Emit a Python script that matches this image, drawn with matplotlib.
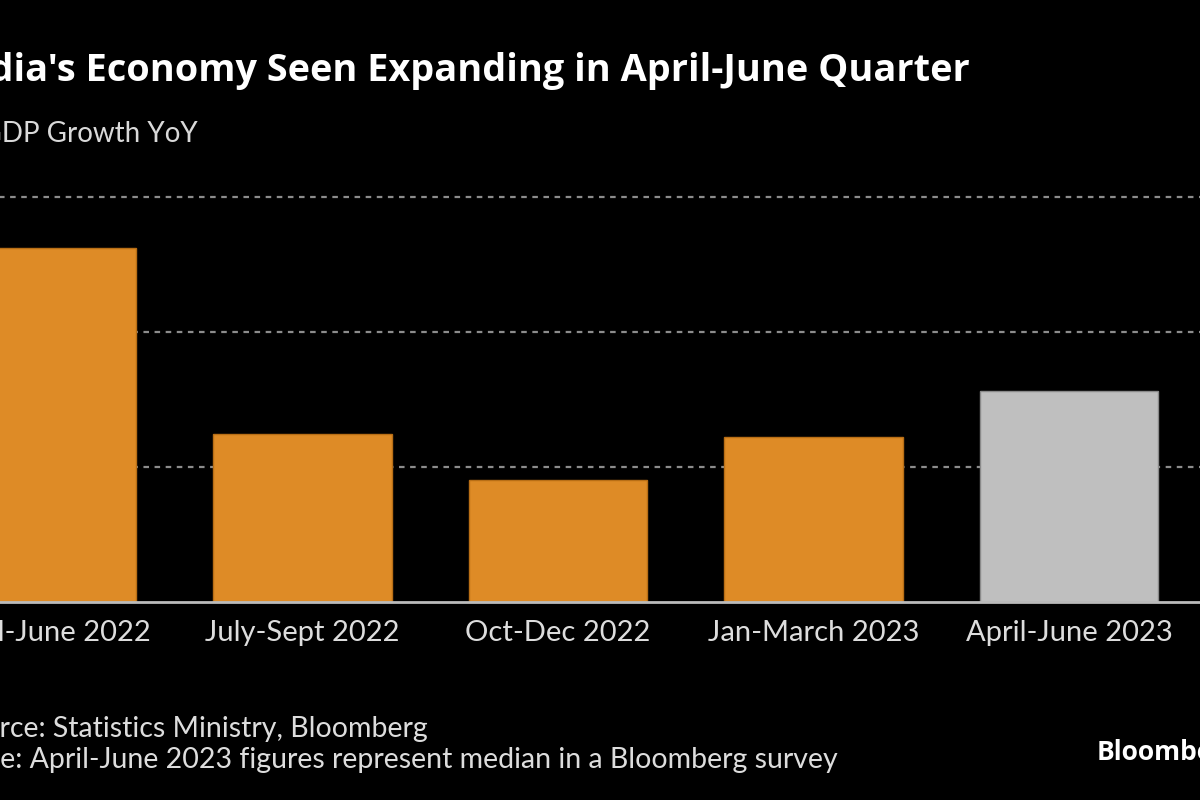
import matplotlib
matplotlib.use("Agg")
import matplotlib.pyplot as plt

# data
quarters = ["April-June 2022", "July-Sept 2022", "Oct-Dec 2022", "Jan-March 2023", "April-June 2023"]
growth = [13.1, 6.2, 4.5, 6.1, 7.8]
bar_colors = ["#DE8B26", "#DE8B26", "#DE8B26", "#DE8B26", "#BFBFBF"]
edge_colors = ["#B86E15", "#B86E15", "#B86E15", "#B86E15", "#8A8A8A"]
y_ticks = [5, 10, 15]

title = "India's Economy Seen Expanding in April-June Quarter"
subtitle = "Real GDP Growth YoY"
source = "Source: Statistics Ministry, Bloomberg"
note = "Note: April-June 2023 figures represent median in a Bloomberg survey"

W, H = 1200, 800
FONT = "Lato"
TITLE_FONT = "Open Sans"

fig = plt.figure(figsize=(W / 100, H / 100), dpi=100, facecolor="black")

# axes placed in pixels; the chart is cropped on the left like the original
x0, x1 = -0.7, 4.6
y0, y1 = 0, 15.3
step = 255.5
px_left = 47 + step * x0
px_right = 47 + step * x1
base_px = 601.5
per_pct = 26.96
top_px = base_px - per_pct * y1
ax = fig.add_axes([px_left / W, 1 - base_px / H, (px_right - px_left) / W, (base_px - top_px) / H])
ax.set_facecolor("black")

pos = list(range(len(quarters)))
ax.bar(pos, growth, width=0.7, color=bar_colors, edgecolor=edge_colors, linewidth=1, zorder=2)

ax.set_xlim(x0, x1)
ax.set_ylim(y0, y1)
ax.set_yticks(y_ticks)
ax.yaxis.grid(True, color="#8C8C8C", linestyle=(0, (2.5, 2.5)), linewidth=1.6, zorder=0)
ax.set_axisbelow(True)
ax.tick_params(axis="y", left=False, labelleft=False)
ax.set_xticks(pos)
ax.set_xticklabels(quarters, fontsize=21, color="#DDDDDD", fontfamily=FONT)
ax.tick_params(axis="x", length=0, pad=13.5)
for s in ["top", "right", "left"]:
    ax.spines[s].set_visible(False)
ax.spines["bottom"].set_color("#BBBBBB")
ax.spines["bottom"].set_linewidth(2)
ax.spines["bottom"].set_zorder(3)

renderer = fig.canvas.get_renderer()


def cut_text(x_vis, y_base, full, prefix, **kw):
    # place text so that the part after `prefix` starts at x_vis pixels
    t = fig.text(0, 0, prefix, **kw)
    w = t.get_window_extent(renderer).width
    t.remove()
    fig.text((x_vis - w) / W, 1 - y_base / H, full, va="baseline", ha="left", **kw)


cut_text(-10, 81, title, "In", fontsize=27.3, fontweight="bold", color="white", fontfamily=TITLE_FONT)
cut_text(2, 142, subtitle, "Real G", fontsize=20, color="#D9D9D9", fontfamily=FONT)
cut_text(0, 737, source, "Sou", fontsize=20.5, color="#DDDDDD", fontfamily=FONT)
cut_text(0, 768, note, "Not", fontsize=20.5, color="#DDDDDD", fontfamily=FONT)

fig.text(1097 / W, 1 - 760 / H, "Bloomberg", fontsize=19, fontweight="bold",
         color="white", fontfamily=TITLE_FONT, va="baseline", ha="left")

fig.savefig("out.png", dpi=100, facecolor="black")
